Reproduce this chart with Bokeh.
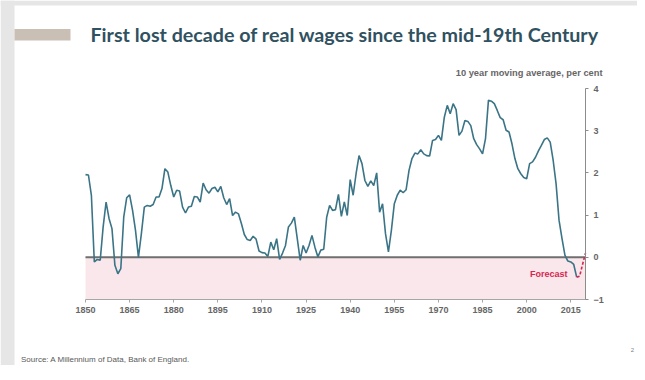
from bokeh.plotting import figure
from bokeh.models import Range1d, FixedTicker, Label, BoxAnnotation, ColumnDataSource
from bokeh.embed import file_html
from bokeh.resources import INLINE

# ---------------- data ----------------
years = list(range(1850, 2018))
wages = [
    1.96, 1.95, 1.47, -0.11, -0.05, -0.07, 0.72, 1.31, 0.92, 0.68,   # 1850-1859
    -0.19, -0.39, -0.27, 0.95, 1.41, 1.48, 1.11, 0.64, 0.00, 0.56,   # 1860-1869
    1.19, 1.23, 1.21, 1.25, 1.43, 1.43, 1.63, 2.10, 2.02, 1.70,      # 1870-1879
    1.43, 1.59, 1.57, 1.19, 1.05, 1.19, 1.21, 1.44, 1.43, 1.31,      # 1880-1889
    1.76, 1.60, 1.52, 1.63, 1.66, 1.55, 1.68, 1.41, 1.25, 1.39,      # 1890-1899
    0.99, 1.07, 1.03, 0.80, 0.54, 0.42, 0.40, 0.50, 0.43, 0.15,      # 1900-1909
    0.11, 0.10, 0.02, 0.36, 0.18, 0.44, -0.05, 0.10, 0.28, 0.72,     # 1910-1919
    0.81, 0.95, 0.44, -0.07, 0.28, 0.10, 0.28, 0.52, 0.24, 0.01,     # 1920-1929
    0.17, 0.19, 0.95, 1.23, 1.11, 1.13, 1.49, 0.97, 1.31, 0.99,      # 1930-1939
    1.84, 1.47, 1.98, 2.41, 2.22, 1.82, 1.68, 1.81, 1.70, 2.00,      # 1940-1949
    1.07, 1.27, 0.56, 0.13, 0.64, 1.27, 1.47, 1.59, 1.53, 1.60,      # 1950-1959
    2.06, 2.34, 2.47, 2.45, 2.55, 2.45, 2.41, 2.40, 2.77, 2.79,      # 1960-1969
    2.89, 2.77, 3.32, 3.60, 3.40, 3.64, 3.50, 2.89, 2.99, 3.24,      # 1970-1979
    3.22, 3.12, 2.81, 2.67, 2.57, 2.45, 2.81, 3.72, 3.70, 3.64,      # 1980-1989
    3.48, 3.31, 3.26, 3.01, 2.97, 2.69, 2.34, 2.10, 1.98, 1.89,      # 1990-1999
    1.86, 2.22, 2.26, 2.37, 2.52, 2.65, 2.79, 2.83, 2.73, 2.30,      # 2000-2009
    1.74, 0.88, 0.45, 0.05, -0.09, -0.11, -0.17, -0.47,              # 2010-2017
]
forecast_years = [2017, 2018, 2019, 2020]
forecast_values = [-0.47, -0.45, -0.17, 0.10]
x_ticks = [1850, 1865, 1880, 1895, 1910, 1925, 1940, 1955, 1970, 1985, 2000, 2015]
y_ticks = [-1, 0, 1, 2, 3, 4]

title_text = "First lost decade of real wages since the mid-19th Century"
subtitle_text = "10 year moving average, per cent"
source_text = "Source:  A Millennium of Data, Bank of England."

# ---------------- geometry ----------------
W, H = 637, 365                       # canvas (whole slide)
X0, X1 = 1850, 2020                   # chart x extent
Y0, Y1 = -1, 4                        # chart y extent
FL, FR, FT, FB = 85, 585, 88, 299     # chart box in canvas pixels
SX = (FR - FL) / (X1 - X0)
SY = (FB - FT) / (Y1 - Y0)


def PX(px):   # canvas pixel -> x data
    return X0 + (px - FL) / SX


def PY(py):   # canvas pixel -> y data
    return Y1 - (py - FT) / SY


p = figure(width=W, height=H, output_backend="svg", toolbar_location=None,
           x_range=Range1d(PX(0), PX(W)), y_range=Range1d(PY(H), PY(0)),
           y_axis_location="right", x_axis_location="below",
           min_border=0, min_border_left=0, min_border_right=0,
           min_border_top=0, min_border_bottom=0)
p.outline_line_color = None
p.xgrid.visible = False
p.ygrid.visible = False
p.background_fill_color = "white"
p.border_fill_color = "white"

GRAY = "#e6e6e6"


def box(l, r, t, b, color, **kw):
    p.add_layout(BoxAnnotation(left=l, right=r, top=t, bottom=b, fill_color=color,
                               fill_alpha=1, line_alpha=0, **kw))


# slide decoration
box(PX(0), PX(14), PY(0), PY(H), GRAY, level="underlay")
box(PX(0), PX(W), PY(0), PY(5), GRAY, level="underlay")
box(PX(14), PX(70), PY(28.5), PY(40), "#c9bfb5", level="underlay")

# negative band and zero line
box(X0, X1, 0, Y0, "#f9e7eb", level="underlay")
p.segment(x0=[X0], x1=[X1], y0=[0], y1=[0], line_color="#6f6f6f", line_width=2)

src = ColumnDataSource(dict(x=years, y=wages))
p.line("x", "y", source=src, line_color="#3a7486", line_width=1.6)
fsrc = ColumnDataSource(dict(x=forecast_years, y=forecast_values))
p.line("x", "y", source=fsrc, line_color="#d6264f", line_width=1.6, line_dash="3 2")

# axes drawn at the chart edges
for ax in (p.xaxis[0], p.yaxis[0]):
    ax.major_label_text_font = "Liberation Sans"
    ax.major_label_text_font_style = "bold"
    ax.major_label_text_font_size = "9px"
    ax.major_label_text_color = "#666666"
    ax.minor_tick_line_color = None
    ax.major_tick_in = 0
    ax.major_tick_out = 3

p.xaxis.fixed_location = Y0
p.xaxis.bounds = (X0, X1)
p.xaxis.ticker = FixedTicker(ticks=x_ticks)
p.xaxis.axis_line_color = "#a6a6a6"
p.xaxis.major_tick_line_color = "#a6a6a6"
p.xaxis.major_label_standoff = 4

p.yaxis.fixed_location = X1
p.yaxis.bounds = (Y0, Y1)
p.yaxis.ticker = FixedTicker(ticks=y_ticks)
p.yaxis.axis_line_color = "#8c8c8c"
p.yaxis.major_tick_line_color = "#8c8c8c"
p.yaxis.major_label_standoff = 5


def label(px, py, text, **kw):
    p.add_layout(Label(x=PX(px), y=PY(py), text=text, text_baseline="middle", **kw))


label(90, 34, title_text, text_font="Lato", text_font_style="bold",
      text_font_size="19.7px", text_color="#30515f", text_align="left")
label(602, 72, subtitle_text, text_font="Liberation Sans", text_font_style="bold",
      text_font_size="9.3px", text_color="#666666", text_align="right")
label(567, 273, "Forecast", text_font="Liberation Sans", text_font_style="bold",
      text_font_size="9px", text_color="#d6264f", text_align="right")
label(20.5, 358.5, source_text, text_font="Liberation Sans", text_font_size="8px",
      text_color="#595959", text_align="left")
label(632, 349, "2", text_font="Liberation Sans", text_font_size="6px",
      text_color="#7f7f7f", text_align="center")

open("out.html", "w").write(file_html(p, INLINE))
